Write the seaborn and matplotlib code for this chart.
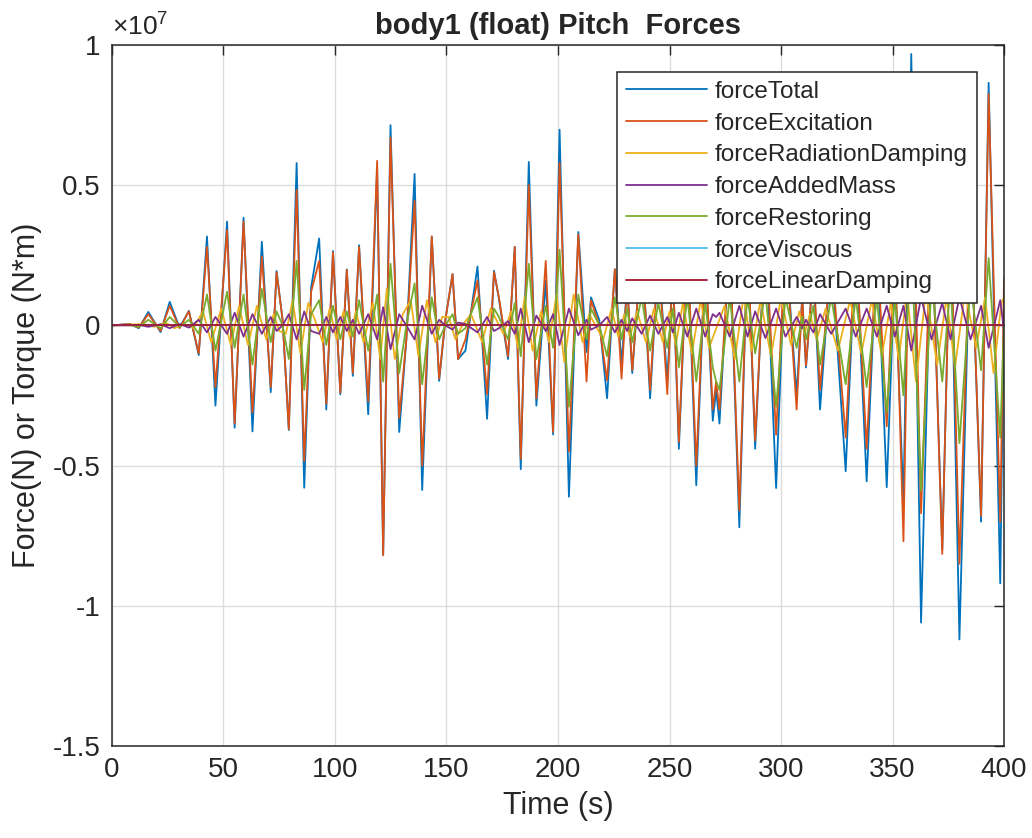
import numpy as np
import pandas as pd
import matplotlib
matplotlib.use('Agg')
import matplotlib.pyplot as plt
import seaborn as sns

# turning points of the pitch forces, values in units of 1e7 N*m
time_s = [0, 8, 12, 16.3, 21.8, 25.9, 30.3, 34.5, 38.9, 42.6,
          46.4, 51.6, 55.0, 59.0, 63.0, 67.2, 71.2, 73.8, 76.5, 79.3,
          82.8, 86.2, 89.3, 92.9, 96.1, 99.1, 102.4, 105.3, 108.0, 110.8,
          114.9, 118.9, 121.6, 124.9, 128.8, 132.0, 135.7, 139.1, 143.4, 146.7,
          149.5, 152.7, 155.2, 158.5, 163.9, 168.2, 171.3, 173.5, 177.6, 180.6,
          183.3, 186.9, 190.3, 194.5, 197.8, 200.7, 204.9, 209.1, 212.8, 214.8,
          218.5, 222.0, 225.5, 228.5, 231.0, 233.3, 237.5, 241.3, 245.0, 249.0,
          251.5, 254.2, 258.0, 262.0, 266.0, 269.4, 270.9, 272.4, 277.0, 281.3,
          285.0, 288.4, 293.0, 297.8, 302.0, 307.0, 309.5, 311.2, 314.5, 317.5,
          322.5, 329.0, 333.5, 338.4, 343.0, 347.4, 351.0, 354.9, 358.4, 362.8,
          367.5, 372.3, 376.0, 380.0, 385.0, 389.7, 393.1, 398.3, 400.0]

force_total = [0, 0.005, -0.01, 0.048, -0.024, 0.084, -0.008, 0.052, -0.106, 0.317,
               -0.286, 0.37, -0.365, 0.384, -0.378, 0.298, -0.238, 0.194, 0.02, -0.373,
               0.579, -0.579, 0.135, 0.31, -0.30, 0.265, -0.246, 0.20, -0.18, 0.286,
               -0.317, 0.56, -0.817, 0.714, -0.38, -0.05, 0.54, -0.587, 0.317, -0.198,
               0.02, 0.183, -0.12, -0.09, 0.21, -0.333, 0.195, 0.095, -0.12, 0.28,
               -0.513, 0.583, -0.286, 0.159, -0.389, 0.698, -0.611, 0.333, -0.095, 0.10,
               0.02, -0.26, 0.20, -0.14, 0.15, -0.17, 0.30, -0.26, 0.25, -0.20,
               0.20, -0.44, 0.30, -0.57, 0.25, -0.34, -0.23, -0.35, 0.30, -0.72,
               0.30, -0.44, 0.35, -0.58, 0.30, -0.25, 0.10, -0.15, 0.20, -0.30,
               0.25, -0.52, 0.30, -0.556, 0.30, -0.577, 0.20, -0.63, 0.968, -1.06,
               0.40, -0.80, 0.40, -1.12, 0.40, -0.70, 0.865, -0.92, 0.10]

force_excitation = [0, 0.005, -0.008, 0.04, -0.02, 0.07, -0.01, 0.05, -0.10, 0.28,
                    -0.22, 0.34, -0.35, 0.37, -0.31, 0.246, -0.22, 0.19, 0.02, -0.37,
                    0.484, -0.484, 0.12, 0.23, -0.28, 0.26, -0.24, 0.198, -0.17, 0.28,
                    -0.27, 0.587, -0.82, 0.67, -0.33, -0.05, 0.444, -0.50, 0.317, -0.19,
                    0.02, 0.183, -0.12, -0.05, 0.16, -0.246, 0.19, 0.10, -0.11, 0.28,
                    -0.476, 0.50, -0.26, 0.23, -0.38, 0.58, -0.45, 0.325, -0.20, 0.09,
                    0.0, -0.196, 0.20, -0.19, 0.15, -0.16, 0.28, -0.23, 0.25, -0.245,
                    0.20, -0.415, 0.30, -0.50, 0.25, -0.30, -0.20, -0.30, 0.30, -0.66,
                    0.30, -0.41, 0.33, -0.39, 0.30, -0.30, 0.10, -0.143, 0.20, -0.23,
                    0.25, -0.40, 0.30, -0.44, 0.30, -0.36, 0.30, -0.77, 0.80, -0.67,
                    0.40, -0.815, 0.40, -0.85, 0.40, -0.68, 0.825, -0.70, 0.17]

force_restoring = [0, 0.002, -0.005, 0.02, -0.01, 0.03, -0.005, 0.02, -0.03, 0.11,
                   -0.09, 0.12, -0.08, 0.11, -0.14, 0.13, -0.06, 0.05, 0.0, -0.12,
                   0.23, -0.23, 0.04, 0.09, -0.07, 0.07, -0.05, 0.05, -0.04, 0.09,
                   -0.09, 0.11, -0.20, 0.22, -0.17, 0.0, 0.15, -0.21, 0.10, -0.05,
                   0.0, 0.04, -0.03, -0.01, 0.10, -0.14, 0.06, 0.03, -0.05, 0.08,
                   -0.11, 0.22, -0.12, 0.07, -0.08, 0.27, -0.29, 0.11, -0.05, 0.06,
                   0.0, -0.11, 0.10, -0.05, 0.06, -0.06, 0.10, -0.09, 0.08, -0.08,
                   0.06, -0.15, 0.10, -0.20, 0.08, -0.15, -0.20, -0.23, 0.10, -0.20,
                   0.10, -0.10, 0.12, -0.29, 0.10, -0.08, 0.03, -0.05, 0.07, -0.14,
                   0.10, -0.21, 0.10, -0.22, 0.10, -0.31, 0.10, -0.25, 0.30, -0.59,
                   0.15, -0.20, 0.15, -0.42, 0.15, -0.16, 0.24, -0.40, 0.0]

force_added_mass = [0, 0, 0.002, -0.005, 0.004, -0.01, 0.005, -0.008, 0.02, -0.025,
                    0.03, -0.03, 0.045, -0.04, 0.04, -0.03, 0.03, -0.02, 0.0, 0.04,
                    -0.05, 0.05, -0.02, -0.03, 0.03, -0.025, 0.03, -0.02, 0.02, -0.03,
                    0.04, -0.05, 0.065, -0.085, 0.04, 0.0, -0.05, 0.07, -0.03, 0.02,
                    0.0, -0.015, 0.01, 0.005, -0.025, 0.03, -0.02, -0.01, 0.015, -0.03,
                    0.06, -0.06, 0.035, -0.02, 0.04, -0.07, 0.06, -0.035, 0.02, -0.015,
                    0.0, 0.03, -0.025, 0.02, -0.02, 0.025, -0.03, 0.035, -0.03, 0.03,
                    -0.025, 0.045, -0.04, 0.06, -0.04, 0.04, 0.03, 0.045, -0.04, 0.07,
                    -0.04, 0.05, -0.045, 0.06, -0.04, 0.03, -0.01, 0.02, -0.025, 0.04,
                    -0.03, 0.06, -0.04, 0.06, -0.04, 0.07, -0.04, 0.07, -0.09, 0.10,
                    -0.05, 0.08, -0.05, 0.10, -0.05, 0.07, -0.08, 0.09, -0.02]

time_radiation = [0, 14, 19, 24, 28, 32.5, 36.5, 40.8, 44.5, 49,
                  53.3, 57, 61, 65, 69.2, 72.5, 75, 78, 81, 84.5,
                  88, 91, 94.5, 97.6, 100.7, 103.8, 106.6, 109.4, 112.8, 117,
                  120.3, 123.2, 126.8, 130.4, 134, 137.4, 141.2, 145, 148, 151,
                  154, 157, 161, 166, 169.8, 175.5, 179, 182, 185, 188.6,
                  192.4, 196, 199.3, 202.8, 207, 211, 214, 220.3, 224, 227,
                  229.7, 232.2, 235.5, 239.4, 243, 247, 250, 252.8, 256, 260,
                  264, 267.7, 274.7, 279.3, 283.3, 286.8, 290.8, 295.5, 300, 304.5,
                  308.2, 310.5, 313, 316, 320, 325.5, 331, 336, 340.7, 345.2,
                  349.2, 352.8, 356.5, 360.5, 365, 370, 374.2, 378, 382.5, 387.5,
                  391.5, 395.3, 398.8, 400]

force_radiation = [0, 0.005, -0.005, 0.01, -0.01, 0.005, -0.01, 0.05, -0.06, 0.06,
                   -0.07, 0.07, -0.07, 0.07, -0.05, 0.04, -0.02, -0.03, 0.09, -0.10,
                   0.08, 0.02, -0.06, 0.06, -0.05, 0.05, -0.04, 0.05, -0.06, 0.08,
                   -0.12, 0.13, -0.12, 0.04, 0.09, -0.11, 0.09, -0.06, 0.03, 0.03,
                   -0.05, 0.0, 0.04, -0.06, 0.06, -0.03, 0.05, -0.08, 0.10, -0.09,
                   0.05, -0.06, 0.11, -0.13, 0.11, -0.06, 0.04, -0.05, 0.06, -0.04,
                   0.04, -0.04, 0.05, -0.06, 0.06, -0.06, 0.05, -0.07, 0.08, -0.10,
                   0.09, -0.08, 0.07, -0.12, 0.11, -0.09, 0.09, -0.11, 0.10, -0.07,
                   0.05, -0.03, 0.04, -0.05, 0.06, -0.09, 0.09, -0.10, 0.09, -0.11,
                   0.08, -0.12, 0.12, -0.20, 0.12, -0.14, 0.10, -0.15, 0.12, -0.08,
                   0.10, -0.17, 0.08, 0.10]

time_flat = [0, 400]
force_viscous = [0, 0]
force_linear_damping = [0, 0]

series_names = ['forceTotal', 'forceExcitation', 'forceRadiationDamping',
                'forceAddedMass', 'forceRestoring', 'forceViscous', 'forceLinearDamping']
series_colors = ['#0072BD', '#D95319', '#EDB120', '#7E2F8E', '#77AC30', '#4DBEEE', '#A2142F']

parts = [
    (time_s, force_total),
    (time_s, force_excitation),
    (time_radiation, force_radiation),
    (time_s, force_added_mass),
    (time_s, force_restoring),
    (time_flat, force_viscous),
    (time_flat, force_linear_damping),
]
frames = []
for name, (t, f) in zip(series_names, parts):
    assert len(t) == len(f), name
    frames.append(pd.DataFrame({'Time': t, 'Force': f, 'Series': name}))
df = pd.concat(frames, ignore_index=True)

sns.set_style('white')
plt.rcParams['font.family'] = ['Liberation Sans Narrow', 'Liberation Sans', 'DejaVu Sans']
plt.rcParams['mathtext.fontset'] = 'custom'
plt.rcParams['mathtext.rm'] = 'Liberation Sans'

fig = plt.figure(figsize=(10.32, 8.38), dpi=100)
ax = fig.add_axes([0.1085, 0.1098, 0.8644, 0.8365])

sns.lineplot(data=df, x='Time', y='Force', hue='Series', hue_order=series_names,
             palette=series_colors, estimator=None, sort=False, linewidth=1.3, ax=ax)

ax.set_xlim(0, 400)
ax.set_ylim(-1.5, 1)
ax.set_xticks(np.arange(0, 401, 50))
ax.set_yticks([-1.5, -1, -0.5, 0, 0.5, 1])
ax.set_yticklabels(['-1.5', '-1', '-0.5', '0', '0.5', '1'])
ax.grid(True, color='#dcdcdc', linewidth=1)
ax.set_axisbelow(True)
for sp in ax.spines.values():
    sp.set_color('#262626')
    sp.set_linewidth(1.1)
ax.tick_params(direction='in', top=True, right=True, length=7, width=1,
               labelsize=20, colors='#262626', pad=8)

ax.set_xlabel('Time (s)', fontsize=22, color='#262626', labelpad=6)
ax.set_ylabel('Force(N) or Torque (N*m)', fontsize=22, color='#262626', labelpad=8)
ax.set_title('body1 (float) Pitch  Forces', fontsize=21, fontweight='bold', pad=8)
ax.text(0.0, 1.006, r'$\times\mathregular{10^{7}}$', transform=ax.transAxes,
        fontsize=19, color='#262626', ha='left', va='bottom')

handles, labels = ax.get_legend_handles_labels()
leg = ax.legend(handles, labels, loc='upper right', bbox_to_anchor=(0.9694, 0.9619),
                borderaxespad=0, frameon=True, fancybox=False, edgecolor='#262626',
                framealpha=1, handlelength=3.33, borderpad=0.38, labelspacing=0.40,
                handletextpad=0.3, prop={'family': 'Liberation Sans', 'size': 17.5})
leg.get_frame().set_linewidth(1.1)
leg.set_zorder(10)

fig.savefig('out.png', dpi=100, facecolor='white')
